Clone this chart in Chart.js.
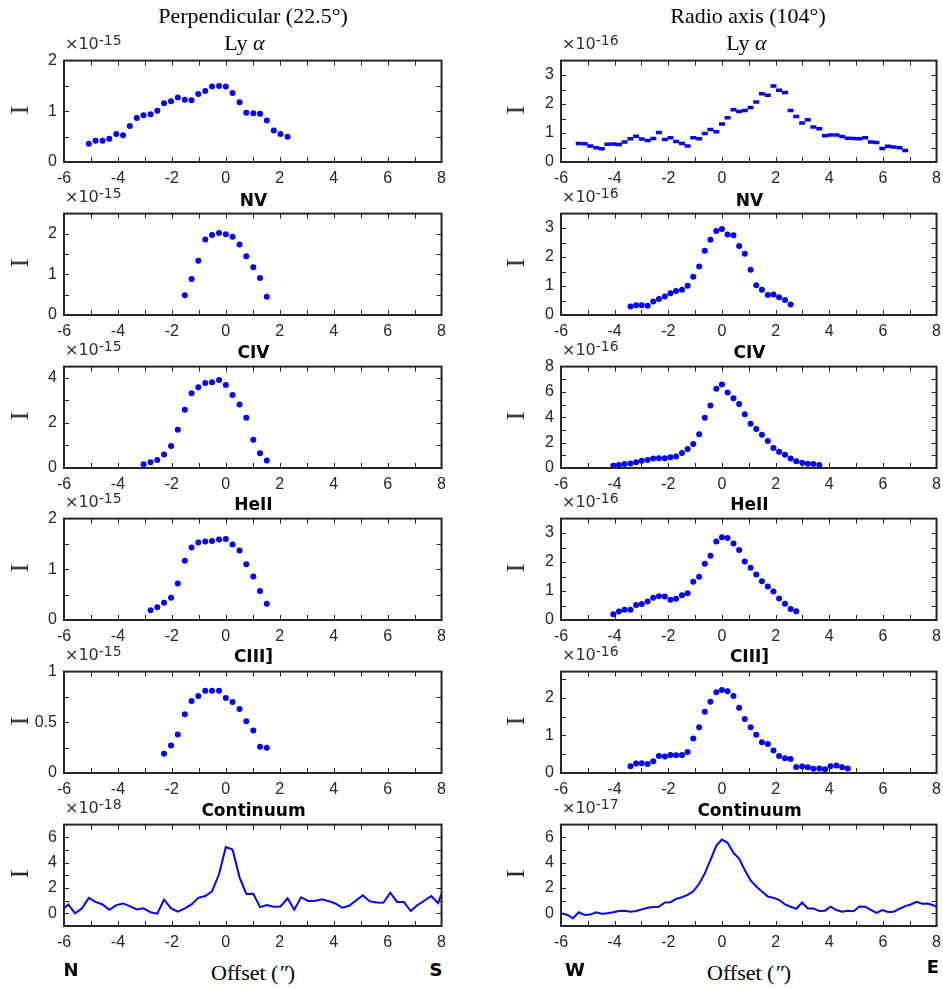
<!DOCTYPE html>
<html>
<head>
<meta charset="utf-8">
<script src="https://cdn.jsdelivr.net/npm/chart.js@4.4.1/dist/chart.umd.min.js"></script>
<style>
  html, body { margin: 0; padding: 0; background: #fff; overflow: hidden; }
  #fig { position: relative; width: 943px; height: 990px; }
  #fig canvas { position: absolute; }
  .txt { position: absolute; white-space: nowrap; transform: translate(-50%, -50%); color: #000; line-height: 1; }
  .serif { font-family: 'Liberation Serif', 'Times New Roman', serif; font-size: 22px; }
  .ttl { font-family: 'DejaVu Sans', sans-serif; font-weight: bold; font-size: 17px; }
  .dir { font-family: 'DejaVu Sans', sans-serif; font-weight: bold; font-size: 18px; }
  .ylab { font-size: 26px; transform: translate(-50%, -50%) rotate(-90deg); color: #262626; }
  .expo { position: absolute; white-space: nowrap; font-family: 'DejaVu Sans', sans-serif; font-size: 16px; color: #303030; line-height: 1; }
  .expo sup { font-size: 14px; position: relative; top: -4px; vertical-align: baseline; }
</style>
</head>
<body>
<div id="fig"></div>
<script>
// x axis (offset, arcsec) is the same for every panel
var X_TICKS = [-6, -4, -2, 0, 2, 4, 6, 8];
var X_MINOR = [-5, -3, -1, 1, 3, 5, 7];

// ---- Perpendicular cut (22.5 deg), intensities in units of the axis exponent
var lyaPerpX = [-5.08, -4.83, -4.57, -4.32, -4.06, -3.81, -3.56, -3.30, -3.05, -2.79, -2.54, -2.29, -2.03, -1.78, -1.52, -1.27, -1.02, -0.76, -0.51, -0.25, 0, 0.25, 0.51, 0.76, 1.02, 1.27, 1.52, 1.78, 2.03, 2.29];
var lyaPerpI = [0.36, 0.42, 0.42, 0.46, 0.55, 0.53, 0.71, 0.87, 0.92, 0.94, 1.01, 1.16, 1.20, 1.27, 1.23, 1.22, 1.34, 1.40, 1.49, 1.50, 1.49, 1.36, 1.18, 0.97, 0.96, 0.95, 0.82, 0.62, 0.55, 0.50];

var nvPerpX = [-1.52, -1.27, -1.02, -0.76, -0.51, -0.25, 0, 0.25, 0.51, 0.76, 1.02, 1.27, 1.52];
var nvPerpI = [0.49, 0.89, 1.34, 1.86, 1.97, 2.02, 1.99, 1.93, 1.74, 1.45, 1.18, 0.91, 0.45];

var civPerpX = [-3.05, -2.79, -2.54, -2.29, -2.03, -1.78, -1.52, -1.27, -1.02, -0.76, -0.51, -0.25, 0, 0.25, 0.51, 0.76, 1.02, 1.27, 1.52];
var civPerpI = [0.17, 0.26, 0.35, 0.60, 0.98, 1.70, 2.58, 3.32, 3.58, 3.77, 3.81, 3.91, 3.68, 3.24, 2.82, 2.23, 1.25, 0.66, 0.33];

var heiiPerpX = [-2.79, -2.54, -2.29, -2.03, -1.78, -1.52, -1.27, -1.02, -0.76, -0.51, -0.25, 0, 0.25, 0.51, 0.76, 1.02, 1.27, 1.52];
var heiiPerpI = [0.19, 0.25, 0.34, 0.44, 0.72, 1.17, 1.43, 1.53, 1.55, 1.56, 1.59, 1.60, 1.49, 1.37, 1.10, 0.86, 0.57, 0.32];

var ciiiPerpX = [-2.29, -2.03, -1.78, -1.52, -1.27, -1.02, -0.76, -0.51, -0.25, 0, 0.25, 0.51, 0.76, 1.02, 1.27, 1.52];
var ciiiPerpI = [0.19, 0.27, 0.38, 0.58, 0.71, 0.76, 0.81, 0.81, 0.81, 0.74, 0.70, 0.63, 0.51, 0.42, 0.26, 0.25];

var contPerpX = [-6.10, -5.84, -5.59, -5.33, -5.08, -4.83, -4.57, -4.32, -4.06, -3.81, -3.56, -3.30, -3.05, -2.79, -2.54, -2.29, -2.03, -1.78, -1.52, -1.27, -1.02, -0.76, -0.51, -0.25, 0, 0.25, 0.51, 0.76, 1.02, 1.27, 1.52, 1.78, 2.03, 2.29, 2.54, 2.79, 3.05, 3.30, 3.56, 3.81, 4.06, 4.32, 4.57, 4.83, 5.08, 5.33, 5.59, 5.84, 6.10, 6.35, 6.60, 6.86, 7.11, 7.37, 7.62, 7.87, 8.13];
var contPerpI = [0.20, 0.70, 0.00, 0.39, 1.22, 0.90, 0.70, 0.28, 0.65, 0.78, 0.57, 0.31, 0.39, 0.08, -0.03, 1.09, 0.39, 0.13, 0.39, 0.70, 1.22, 1.37, 1.73, 3.10, 5.22, 5.04, 2.84, 1.53, 1.55, 0.49, 0.65, 0.52, 0.54, 1.19, 0.28, 1.27, 0.98, 0.98, 1.11, 0.96, 0.78, 0.44, 0.60, 1.01, 1.42, 0.96, 0.85, 0.83, 1.63, 0.90, 0.90, 0.18, 0.65, 1.01, 1.37, 0.80, 2.27];

// ---- Radio axis cut (104 deg)
var lyaRadX = [-5.34, -5.12, -4.91, -4.69, -4.48, -4.27, -4.05, -3.84, -3.63, -3.41, -3.20, -2.99, -2.77, -2.56, -2.35, -2.13, -1.92, -1.71, -1.49, -1.28, -1.07, -0.85, -0.64, -0.43, -0.21, 0, 0.21, 0.43, 0.64, 0.85, 1.07, 1.28, 1.49, 1.71, 1.92, 2.13, 2.35, 2.56, 2.77, 2.99, 3.20, 3.41, 3.63, 3.84, 4.05, 4.27, 4.48, 4.69, 4.91, 5.12, 5.34, 5.55, 5.76, 5.98, 6.19, 6.40, 6.62, 6.83];
var lyaRadI = [0.64, 0.63, 0.55, 0.49, 0.46, 0.61, 0.62, 0.60, 0.69, 0.80, 0.89, 0.79, 0.74, 0.81, 1.02, 0.78, 0.84, 0.71, 0.64, 0.55, 0.84, 0.80, 0.98, 1.12, 1.04, 1.31, 1.53, 1.80, 1.74, 1.78, 1.88, 2.07, 2.36, 2.30, 2.62, 2.48, 2.40, 1.78, 1.57, 1.35, 1.46, 1.21, 1.15, 0.91, 0.93, 0.93, 0.88, 0.82, 0.81, 0.80, 0.84, 0.69, 0.67, 0.47, 0.54, 0.52, 0.49, 0.40];

var nvRadX = [-3.41, -3.20, -2.99, -2.77, -2.56, -2.35, -2.13, -1.92, -1.71, -1.49, -1.28, -1.07, -0.85, -0.64, -0.43, -0.21, 0, 0.21, 0.43, 0.64, 0.85, 1.07, 1.28, 1.49, 1.71, 1.92, 2.13, 2.35, 2.56];
var nvRadI = [0.29, 0.34, 0.34, 0.32, 0.47, 0.55, 0.64, 0.75, 0.83, 0.87, 1.01, 1.32, 1.67, 2.22, 2.60, 2.90, 2.97, 2.78, 2.75, 2.38, 2.11, 1.56, 1.03, 0.87, 0.69, 0.71, 0.61, 0.52, 0.36];

var civRadX = [-4.05, -3.84, -3.63, -3.41, -3.20, -2.99, -2.77, -2.56, -2.35, -2.13, -1.92, -1.71, -1.49, -1.28, -1.07, -0.85, -0.64, -0.43, -0.21, 0, 0.21, 0.43, 0.64, 0.85, 1.07, 1.28, 1.49, 1.71, 1.92, 2.13, 2.35, 2.56, 2.77, 2.99, 3.20, 3.41, 3.63];
var civRadI = [0.18, 0.23, 0.31, 0.36, 0.46, 0.57, 0.64, 0.75, 0.77, 0.77, 0.85, 0.90, 1.18, 1.49, 1.90, 2.67, 3.96, 4.94, 6.25, 6.58, 5.96, 5.50, 5.04, 4.24, 3.50, 3.08, 2.62, 2.13, 1.57, 1.29, 1.05, 0.75, 0.54, 0.41, 0.33, 0.31, 0.23];

var heiiRadX = [-4.05, -3.84, -3.63, -3.41, -3.20, -2.99, -2.77, -2.56, -2.35, -2.13, -1.92, -1.71, -1.49, -1.28, -1.07, -0.85, -0.64, -0.43, -0.21, 0, 0.21, 0.43, 0.64, 0.85, 1.07, 1.28, 1.49, 1.71, 1.92, 2.13, 2.35, 2.56, 2.77];
var heiiRadI = [0.20, 0.29, 0.35, 0.35, 0.52, 0.55, 0.64, 0.77, 0.82, 0.81, 0.70, 0.73, 0.85, 0.92, 1.32, 1.49, 1.94, 2.22, 2.71, 2.86, 2.83, 2.64, 2.42, 2.02, 1.80, 1.57, 1.34, 1.16, 0.98, 0.74, 0.56, 0.38, 0.30];

var ciiiRadX = [-3.41, -3.20, -2.99, -2.77, -2.56, -2.35, -2.13, -1.92, -1.71, -1.49, -1.28, -1.07, -0.85, -0.64, -0.43, -0.21, 0, 0.21, 0.43, 0.64, 0.85, 1.07, 1.28, 1.49, 1.71, 1.92, 2.13, 2.35, 2.56, 2.77, 2.99, 3.20, 3.41, 3.63, 3.84, 4.05, 4.27, 4.48, 4.69];
var ciiiRadI = [0.18, 0.25, 0.26, 0.24, 0.31, 0.45, 0.44, 0.48, 0.47, 0.48, 0.56, 0.92, 1.22, 1.63, 1.90, 2.15, 2.21, 2.18, 2.05, 1.74, 1.44, 1.22, 1.02, 0.82, 0.77, 0.60, 0.45, 0.39, 0.37, 0.16, 0.17, 0.15, 0.11, 0.12, 0.10, 0.18, 0.20, 0.15, 0.12];

var contRadX = [-6.19, -5.98, -5.76, -5.55, -5.34, -5.12, -4.91, -4.69, -4.48, -4.27, -4.05, -3.84, -3.63, -3.41, -3.20, -2.99, -2.77, -2.56, -2.35, -2.13, -1.92, -1.71, -1.49, -1.28, -1.07, -0.85, -0.64, -0.43, -0.21, 0, 0.21, 0.43, 0.64, 0.85, 1.07, 1.28, 1.49, 1.71, 1.92, 2.13, 2.35, 2.56, 2.77, 2.99, 3.20, 3.41, 3.63, 3.84, 4.05, 4.27, 4.48, 4.69, 4.91, 5.12, 5.34, 5.55, 5.76, 5.98, 6.19, 6.40, 6.62, 6.83, 7.04, 7.25, 7.47, 7.68, 7.90, 8.11];
var contRadI = [0.05, 0.00, -0.13, -0.39, 0.08, -0.13, -0.10, 0.08, -0.03, 0.00, 0.08, 0.18, 0.21, 0.13, 0.18, 0.31, 0.44, 0.49, 0.52, 0.85, 0.88, 1.14, 1.27, 1.45, 1.74, 2.33, 3.15, 4.19, 5.35, 5.82, 5.56, 4.76, 4.32, 3.41, 2.59, 2.12, 1.73, 1.32, 1.22, 1.06, 0.70, 0.52, 0.36, 0.85, 0.39, 0.39, 0.18, 0.21, 0.52, 0.26, 0.13, 0.21, 0.16, 0.54, 0.52, 0.28, 0.03, 0.26, 0.10, 0.13, 0.36, 0.57, 0.70, 0.91, 0.75, 0.78, 0.62, 0.39];

var BLUE = '#0000ff';
var AXIS = '#262626';
var fig = document.getElementById('fig');

// inward MATLAB-style ticks on all four sides plus the axes box
var framePlugin = {
    id: 'frame',
    afterDraw: function (chart) {
        var o = chart.options.plugins.frame;
        var a = chart.chartArea, ctx = chart.ctx;
        var sx = chart.scales.x, sy = chart.scales.y;
        var len = 5;
        ctx.save();
        ctx.strokeStyle = AXIS;
        ctx.lineWidth = 1;
        ctx.beginPath();
        X_TICKS.concat(X_MINOR).forEach(function (v) {
            var px = Math.round(sx.getPixelForValue(v)) + 0.5;
            if (px <= a.left + 1 || px >= a.right - 1) return;
            ctx.moveTo(px, a.bottom); ctx.lineTo(px, a.bottom - len);
            ctx.moveTo(px, a.top); ctx.lineTo(px, a.top + len);
        });
        o.yTicks.concat(o.yMinor).forEach(function (v) {
            var py = Math.round(sy.getPixelForValue(v)) + 0.5;
            if (py <= a.top + 1 || py >= a.bottom - 1) return;
            ctx.moveTo(a.left, py); ctx.lineTo(a.left + len, py);
            ctx.moveTo(a.right, py); ctx.lineTo(a.right - len, py);
        });
        ctx.stroke();
        ctx.lineWidth = 2;
        ctx.strokeRect(a.left, a.top, a.right - a.left, a.bottom - a.top);
        ctx.restore();
    }
};

function addText(html, x, y, cls) {
    var d = document.createElement('div');
    d.className = 'txt ' + cls;
    d.innerHTML = html;
    d.style.left = x + 'px';
    d.style.top = y + 'px';
    fig.appendChild(d);
}

function addExponent(exp, x, y) {
    var d = document.createElement('div');
    d.className = 'expo';
    d.innerHTML = '&times;10<sup>' + exp + '</sup>';
    d.style.left = x + 'px';
    d.style.top = y + 'px';
    fig.appendChild(d);
}

function makePanel(p) {
    var padL = 60, padT = 14, padR = 10, padB = 32;
    var cv = document.createElement('canvas');
    cv.width = p.w + padL + padR;
    cv.height = p.h + padT + padB;
    cv.style.left = (p.left - padL) + 'px';
    cv.style.top = (p.top - padT) + 'px';
    fig.appendChild(cv);

    var pts = p.xs.map(function (x, i) { return { x: x, y: p.ys[i] }; });
    var ds;
    if (p.line) {
        ds = { data: pts, showLine: true, borderColor: BLUE, borderWidth: 2, pointRadius: 0, tension: 0 };
    } else if (p.dash) {
        // densely sampled cut: the dots smear into short horizontal dashes
        ds = { data: pts, showLine: false, borderColor: BLUE, borderWidth: 3.5, pointRadius: 3, pointStyle: 'line' };
    } else {
        ds = { data: pts, showLine: false, backgroundColor: BLUE, borderWidth: 0, pointRadius: 3, pointStyle: 'circle' };
    }

    var tickFont = { family: "'Liberation Sans', Arial, sans-serif", size: 16 };
    var fmt = function (v) { return String(v); };

    new Chart(cv.getContext('2d'), {
        type: 'scatter',
        data: { datasets: [ds] },
        options: {
            responsive: false,
            animation: false,
            devicePixelRatio: 1,
            events: [],
            layout: { padding: { top: padT, right: padR, left: 0, bottom: 0 } },
            plugins: {
                legend: { display: false },
                tooltip: { enabled: false },
                frame: { yTicks: p.yTicks, yMinor: p.yMinor }
            },
            scales: {
                x: {
                    type: 'linear', min: -6, max: 8,
                    grid: { display: false, drawTicks: false },
                    border: { display: false },
                    afterBuildTicks: function (s) { s.ticks = X_TICKS.map(function (v) { return { value: v }; }); },
                    afterFit: function (s) { s.height = padB; },
                    ticks: { font: tickFont, color: AXIS, padding: 7, maxRotation: 0, autoSkip: false, callback: fmt }
                },
                y: {
                    type: 'linear', min: p.yMin, max: p.yMax,
                    grid: { display: false, drawTicks: false },
                    border: { display: false },
                    afterBuildTicks: function (s) { s.ticks = p.yTicks.map(function (v) { return { value: v }; }); },
                    afterFit: function (s) { s.width = padL; },
                    ticks: { font: tickFont, color: AXIS, padding: 7, autoSkip: false, callback: fmt }
                }
            }
        },
        plugins: [framePlugin]
    });

    addExponent(p.exp, p.left + 1, p.top - 22);
    addText(p.title, p.left + p.w / 2 + (p.titleDx || 0), p.top - p.titleDy, p.titleCls);
    addText('I', p.left - p.ylabDx, p.top + p.h / 2, 'serif ylab');
}

var LEFT = { x: 64, w: 379 }, RIGHT = { x: 561, w: 377 };
var ROW_TOP = [58, 211, 364, 516, 669, 822];
var ROW_H = 104;

var panels = [
    // perpendicular column
    { col: LEFT, row: 0, xs: lyaPerpX, ys: lyaPerpI, yMin: 0, yMax: 2, yTicks: [0, 1, 2], yMinor: [0.5, 1.5], exp: '-15', title: 'Ly <i>&alpha;</i>', titleCls: 'serif', titleDy: 15, titleDx: -9 },
    { col: LEFT, row: 1, xs: nvPerpX, ys: nvPerpI, yMin: 0, yMax: 2.5, yTicks: [0, 1, 2], yMinor: [0.5, 1.5], exp: '-15', title: 'NV', titleCls: 'ttl', titleDy: 11 },
    { col: LEFT, row: 2, xs: civPerpX, ys: civPerpI, yMin: 0, yMax: 4.5, yTicks: [0, 2, 4], yMinor: [1, 3], exp: '-15', title: 'CIV', titleCls: 'ttl', titleDy: 12 },
    { col: LEFT, row: 3, xs: heiiPerpX, ys: heiiPerpI, yMin: 0, yMax: 2, yTicks: [0, 1, 2], yMinor: [0.5, 1.5], exp: '-15', title: 'HeII', titleCls: 'ttl', titleDy: 12 },
    { col: LEFT, row: 4, xs: ciiiPerpX, ys: ciiiPerpI, yMin: 0, yMax: 1, yTicks: [0, 0.5, 1], yMinor: [0.25, 0.75], exp: '-15', title: 'CIII]', titleCls: 'ttl', titleDy: 13 },
    { col: LEFT, row: 5, xs: contPerpX, ys: contPerpI, line: true, yMin: -1, yMax: 7, yTicks: [0, 2, 4, 6], yMinor: [1, 3, 5], exp: '-18', title: 'Continuum', titleCls: 'ttl', titleDy: 12 },
    // radio axis column
    { col: RIGHT, row: 0, xs: lyaRadX, ys: lyaRadI, dash: true, yMin: 0, yMax: 3.5, yTicks: [0, 1, 2, 3], yMinor: [0.5, 1.5, 2.5], exp: '-16', title: 'Ly <i>&alpha;</i>', titleCls: 'serif', titleDy: 15, titleDx: -3 },
    { col: RIGHT, row: 1, xs: nvRadX, ys: nvRadI, yMin: 0, yMax: 3.5, yTicks: [0, 1, 2, 3], yMinor: [0.5, 1.5, 2.5], exp: '-16', title: 'NV', titleCls: 'ttl', titleDy: 11 },
    { col: RIGHT, row: 2, xs: civRadX, ys: civRadI, yMin: 0, yMax: 8, yTicks: [0, 2, 4, 6, 8], yMinor: [1, 3, 5, 7], exp: '-16', title: 'CIV', titleCls: 'ttl', titleDy: 12 },
    { col: RIGHT, row: 3, xs: heiiRadX, ys: heiiRadI, yMin: 0, yMax: 3.5, yTicks: [0, 1, 2, 3], yMinor: [0.5, 1.5, 2.5], exp: '-16', title: 'HeII', titleCls: 'ttl', titleDy: 12 },
    { col: RIGHT, row: 4, xs: ciiiRadX, ys: ciiiRadI, yMin: 0, yMax: 2.7, yTicks: [0, 1, 2], yMinor: [0.5, 1.5, 2.5], exp: '-16', title: 'CIII]', titleCls: 'ttl', titleDy: 13 },
    { col: RIGHT, row: 5, xs: contRadX, ys: contRadI, line: true, yMin: -1, yMax: 7, yTicks: [0, 2, 4, 6], yMinor: [1, 3, 5], exp: '-17', title: 'Continuum', titleCls: 'ttl', titleDy: 12 }
];

panels.forEach(function (p) {
    p.left = p.col.x;
    p.w = p.col.w;
    p.top = ROW_TOP[p.row];
    p.h = ROW_H;
    p.ylabDx = p.col === LEFT ? 44 : 45;
    makePanel(p);
});

// column headings and the bottom labels
addText('Perpendicular (22.5&deg;)', 253, 16, 'serif');
addText('Radio axis (104&deg;)', 748, 16, 'serif');
addText('Offset (<i>&Prime;</i>)', 253, 973, 'serif');
addText('Offset (<i>&Prime;</i>)', 749, 973, 'serif');
addText('N', 71, 970, 'dir');
addText('S', 436, 970, 'dir');
addText('W', 575, 970, 'dir');
addText('E', 933, 967, 'dir');
</script>
</body>
</html>
